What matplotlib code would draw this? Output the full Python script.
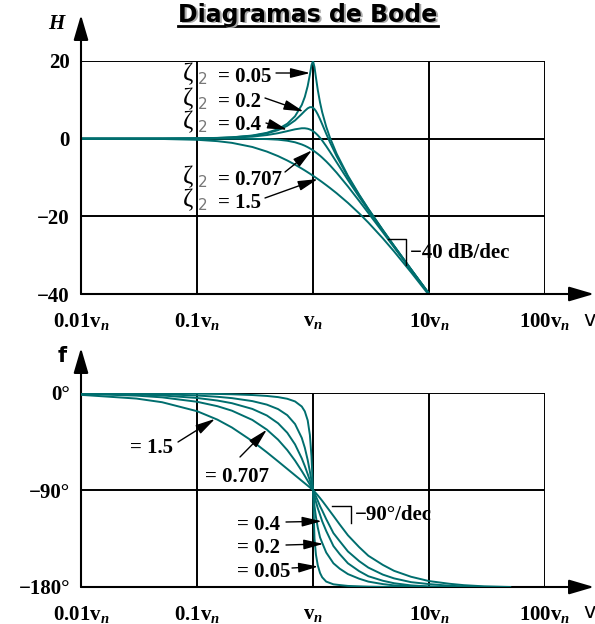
import matplotlib.pyplot as plt
from matplotlib.lines import Line2D
from matplotlib.ticker import NullLocator

plt.rcParams['mathtext.fontset'] = 'custom'
plt.rcParams['mathtext.rm'] = 'Liberation Serif:bold'
plt.rcParams['mathtext.it'] = 'Liberation Serif:italic:bold'
plt.rcParams['mathtext.bf'] = 'Liberation Serif:bold'

W, H = 595, 624

# damping ratios (zeta_2) of the five curves
zeta_labels = ['0.05', '0.2', '0.4', '0.707', '1.5']

# magnitude (dB), frequency in units of v_n
freq_mag = [0.01, 0.05, 0.1, 0.15, 0.2, 0.3, 0.4, 0.5, 0.6, 0.7, 0.8, 0.85, 0.9, 0.94, 0.97, 1.0,
            1.03, 1.06, 1.1, 1.15, 1.2, 1.3, 1.4, 1.6, 2.0, 2.5, 3.0, 4.0, 5.0, 7.0, 10.0]
mag_005 = [0.0, 0.02, 0.09, 0.20, 0.35, 0.81, 1.51, 2.48, 3.84, 5.77, 8.67, 10.75, 13.55, 16.50, 18.89, 20.0,
           18.44, 15.77, 12.50, 9.31, 6.82, 3.07, 0.26, -3.91, -9.56, -14.41, -18.07, -23.53, -27.61, -33.63, -39.91]
mag_02 = [0.0, 0.02, 0.08, 0.18, 0.33, 0.74, 1.36, 2.20, 3.31, 4.70, 6.35, 7.15, 7.81, 8.10, 8.12, 7.96,
          7.61, 7.10, 6.24, 5.01, 3.73, 1.27, -0.92, -4.54, -9.84, -14.56, -18.16, -23.57, -27.63, -33.64, -39.92]
mag_04 = [0.0, 0.02, 0.06, 0.13, 0.24, 0.53, 0.93, 1.41, 1.94, 2.41, 2.68, 2.68, 2.56, 2.37, 2.18, 1.94,
          1.66, 1.34, 0.87, 0.22, -0.47, -1.93, -3.38, -6.10, -10.63, -14.99, -18.44, -23.72, -27.72, -33.68, -39.94]
mag_0707 = [0.0, 0.0, 0.0, 0.0, -0.01, -0.04, -0.11, -0.26, -0.53, -0.93, -1.49, -1.82, -2.19, -2.51, -2.75, -3.01,
            -3.28, -3.55, -3.92, -4.39, -4.88, -5.86, -6.85, -8.78, -12.30, -16.03, -19.14, -24.10, -27.97, -33.81, -40.0]
mag_15 = [0.0, -0.08, -0.29, -0.64, -1.08, -2.14, -3.32, -4.49, -5.62, -6.69, -7.70, -8.18, -8.65, -9.01, -9.28, -9.54,
          -9.80, -10.06, -10.39, -10.79, -11.19, -11.96, -12.69, -14.06, -16.53, -19.23, -21.61, -25.67, -29.04, -34.39, -40.29]

# phase (degrees)
freq_ph = [0.01, 0.03, 0.05, 0.1, 0.15, 0.2, 0.3, 0.4, 0.5, 0.6, 0.7, 0.8, 0.85, 0.9, 0.94, 0.97, 1.0,
           1.03, 1.06, 1.1, 1.15, 1.2, 1.3, 1.5, 1.7, 2.0, 2.5, 3.0, 4.0, 5.0, 7.0, 10.0, 15.0, 20.0, 30.0, 50.0]
ph_005 = [-0.06, -0.17, -0.29, -0.58, -0.88, -1.19, -1.89, -2.73, -3.81, -5.36, -7.82, -12.53, -17.03, -25.35,
          -38.92, -58.64, -90,
          -135, -150, -160, -167, -171, -175, -177.5, -178.2, -179, -179.4, -179.7, -179.9, -180, -180, -180,
          -180, -180, -180, -180]
ph_02 = [-0.23, -0.69, -1.15, -2.31, -3.51, -4.76, -7.51, -10.78, -14.93, -20.56, -28.77, -41.63, -50.78, -62.18,
         -72.80, -81.34, -90,
         -105, -115, -125, -134, -139, -148, -158, -163, -168, -172.3, -175, -177.3, -178.5, -179.3, -179.8,
         -180, -180, -180, -180]
ph_04 = [-0.46, -1.38, -2.30, -4.62, -7.00, -9.46, -14.78, -20.85, -28.07, -36.87, -47.67, -60.64, -67.80, -75.22,
         -81.20, -85.65, -90,
         -96, -101, -107, -113, -119, -128, -142, -149.5, -158, -165.3, -170, -174.2, -176.5, -178.5, -179.5,
         -179.9, -180, -180, -180]
ph_0707 = [-0.81, -2.43, -4.05, -8.13, -12.24, -16.41, -24.99, -33.96, -43.31, -52.97, -62.74, -72.35, -77.00, -81.51,
           -85.00, -87.53, -90,
           -93, -96, -100, -105, -109, -117, -130, -137.5, -147, -156, -162, -168.5, -172, -175.5, -177.3,
           -178.8, -179.5, -179.9, -180]
ph_15 = [-1.72, -5.15, -8.55, -16.86, -24.72, -32.01, -44.68, -55.01, -63.44, -70.43, -76.35, -81.47, -83.79, -85.98,
         -87.64, -88.84, -90,
         -91.5, -93, -95, -97.5, -100, -105, -114, -122, -132, -143, -151, -159.5, -165, -170.5, -174.5,
         -177, -178.3, -179.4, -180]

decades = [0.01, 0.1, 1, 10, 100]
x_labels = [r'$\mathrm{0.01v}_n$', r'$\mathrm{0.1v}_n$', r'$\mathrm{v}_n$', r'$\mathrm{10v}_n$', r'$\mathrm{100v}_n$']
mag_ticks = [20, 0, -20, -40]
mag_tick_labels = ['20', '0', '\u221220', '\u221240']
ph_ticks = [0, -90, -180]
ph_tick_labels = ['0\u00b0', '\u221290\u00b0', '\u2212180\u00b0']

teal = '#006e6e'
serif_b = dict(family='Liberation Serif', weight='bold', size=15)

fig = plt.figure(figsize=(W / 100, H / 100), dpi=100)


def fx(x):
    return x / W


def fy(y):
    return 1 - y / H


def px(x, y):
    return (x, H - y)


ax_mag = fig.add_axes([fx(81), fy(294), fx(545) - fx(81), fy(61) - fy(294)])
ax_ph = fig.add_axes([fx(81), fy(587), fx(545) - fx(81), fy(393) - fy(587)])

for ax, ylim, yt, ytl in [(ax_mag, (-40, 20), mag_ticks, mag_tick_labels),
                          (ax_ph, (-180, 0), ph_ticks, ph_tick_labels)]:
    ax.set_xscale('log')
    ax.set_xlim(0.01, 100)
    ax.set_ylim(*ylim)
    ax.set_facecolor('none')
    for s in ax.spines.values():
        s.set_visible(False)
    ax.set_xticks(decades, labels=x_labels, fontsize=15)
    ax.xaxis.set_minor_locator(NullLocator())
    ax.set_yticks(yt, labels=ytl, **serif_b)
    ax.tick_params(axis='y', length=0, pad=8)
    ax.tick_params(axis='x', length=0, pad=12)
    # grid and frame
    for d in decades[1:]:
        ax.axvline(d, color='black', lw=1.4, zorder=1)
    for v in yt[:-1]:
        ax.axhline(v, color='black', lw=1.4, zorder=1)

mag_curves = [mag_005, mag_02, mag_04, mag_0707, mag_15]
for m in mag_curves:
    ax_mag.plot(freq_mag, m, color=teal, lw=1.4, zorder=3)

ph_curves = [ph_005, ph_02, ph_04, ph_0707, ph_15]
for p in ph_curves:
    ax_ph.plot(freq_ph, p, color=teal, lw=1.4, zorder=3)

# axis lines with arrow heads
axis_arrow = dict(arrowstyle='-|>,head_length=0.85,head_width=0.25', color='black', lw=1.5,
                  mutation_scale=18, shrinkA=0, shrinkB=0)
for y0, ytip in [(294, 15), (587, 348)]:
    ax_mag.annotate('', xy=px(81, ytip), xytext=px(81, y0), xycoords='figure pixels',
                    textcoords='figure pixels', arrowprops=axis_arrow, annotation_clip=False)
    ax_mag.annotate('', xy=px(594, y0), xytext=px(81, y0), xycoords='figure pixels',
                    textcoords='figure pixels', arrowprops=axis_arrow, annotation_clip=False)

fig.text(fx(56), fy(24), 'H', ha='center', va='center', family='Liberation Serif',
         style='italic', weight='bold', size=15)
fig.text(fx(62), fy(356), 'f', ha='center', va='center', family='DejaVu Sans', weight='bold', size=15)
for yv in [320, 612]:
    fig.text(fx(583), fy(yv), 'v', ha='left', va='center', family='DejaVu Sans', size=15)

# title
fig.text(fx(309.5), fy(23.5), 'Diagramas de Bode', ha='center', va='baseline', family='DejaVu Sans',
         weight='bold', size=17, color='#aaaaaa')
fig.text(fx(308), fy(22), 'Diagramas de Bode', ha='center', va='baseline', family='DejaVu Sans',
         weight='bold', size=17, color='black')
fig.add_artist(Line2D([fx(178), fx(438)], [fy(25.5), fy(25.5)], color='black', lw=2))

# zeta labels, magnitude plot
small_arrow = dict(arrowstyle='-|>,head_length=1.0,head_width=0.25', color='black', lw=1,
                   mutation_scale=12, shrinkA=0, shrinkB=0)
mag_rows = [82, 107, 130, 185, 208]
mag_tails = [(276, 73), (265, 98), (266, 123), (285, 172), (265, 198)]
mag_heads = [(0.945, 16.9), (0.83, 7.0), (0.6, 2.3), (0.98, -3.0), (1.1, -10.4)]
for z, yb, tail, head in zip(zeta_labels, mag_rows, mag_tails, mag_heads):
    fig.text(fx(183), fy(yb - 2), '\u03b6', ha='left', va='baseline', family='Liberation Serif', size=18)
    fig.text(fx(198), fy(yb + 2), '2', ha='left', va='baseline', family='DejaVu Sans', size=11,
             color='#777777')
    fig.text(fx(218), fy(yb), '= ' + z, ha='left', va='baseline', **serif_b)
    ax_mag.annotate('', xy=head, xycoords='data', xytext=px(*tail), textcoords='figure pixels',
                    arrowprops=small_arrow, annotation_clip=False)

# zeta labels, phase plot
ph_text = [(237, 577), (237, 553), (237, 530), (205, 482), (130, 453)]
ph_tails = [(292, 568), (286, 545), (286, 522), (240, 457), (178, 442)]
ph_heads = [(1.11, -161), (1.23, -140), (1.19, -119), (0.4, -34), (0.143, -24)]
for z, pos, tail, head in zip(zeta_labels, ph_text, ph_tails, ph_heads):
    fig.text(fx(pos[0]), fy(pos[1]), '= ' + z, ha='left', va='baseline', **serif_b)
    ax_ph.annotate('', xy=head, xycoords='data', xytext=px(*tail), textcoords='figure pixels',
                   arrowprops=small_arrow, annotation_clip=False)

# slope markers
fig.add_artist(Line2D([fx(388), fx(406), fx(406)], [fy(239), fy(239), fy(265)], color='black', lw=1))
fig.text(fx(410), fy(258), '\u221240 dB/dec', ha='left', va='baseline', **serif_b)
fig.add_artist(Line2D([fx(332), fx(351), fx(351)], [fy(506), fy(506), fy(523)], color='black', lw=1))
fig.text(fx(355), fy(520), '\u221290\u00b0/dec', ha='left', va='baseline', **serif_b)

fig.savefig('out.png', dpi=100)
